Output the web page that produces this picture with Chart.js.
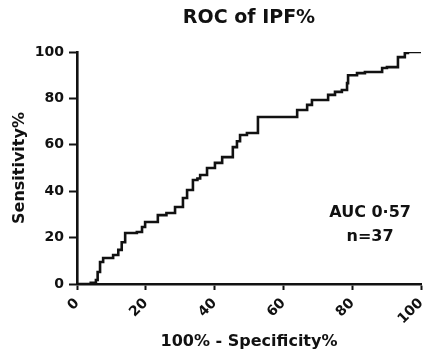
<!DOCTYPE html>
<html>
<head>
<meta charset="utf-8">
<script src="https://cdn.jsdelivr.net/npm/chart.js@4.4.1/dist/chart.umd.min.js"></script>
<style>
  html, body { margin: 0; padding: 0; background: #fff; }
  #wrap { width: 424px; height: 353px; }
</style>
</head>
<body>
<div id="wrap"><canvas id="graficoRoc"></canvas></div>
<script>
// ROC curve: 100% - specificity (x) vs sensitivity (y)
const especificidade = [0, 4, 5.5, 6, 6.7, 7.6, 9.5, 10.5, 12, 13, 14, 15.5, 17.4, 18.9, 19.8, 21.8, 23.5, 26, 28.5,
  30.8, 32, 33.7, 35, 35.8, 37.8, 40.1, 42.2, 43.9, 45.3, 46.5, 47.4, 49.4, 52.3, 52.6, 62.5, 64, 66.9, 68.3, 70.6,
  73, 75, 77, 78.5, 78.8, 81.4, 83.7, 87.2, 88.7, 90.1, 93, 93.3, 95.3, 96.2, 100];
const sensibilidade = [0, 0.5, 1.7, 5.2, 9.5, 11.2, 11.2, 12.5, 14.7, 18, 22, 22, 22.4, 24.6, 26.7, 26.7, 29.7, 30.6, 33.2,
  37.1, 40.5, 44.8, 45.5, 47, 50, 52.2, 54.7, 54.7, 59, 61.5, 64.2, 65.1, 65.1, 72, 72, 75, 77.2, 79.3, 79.3,
  81.5, 82.8, 83.6, 86.6, 90, 90.9, 91.4, 91.4, 93.1, 93.5, 93.5, 97.8, 99.6, 100, 100];
const ticksEixo = [0, 20, 40, 60, 80, 100];

const titulo = 'ROC of IPF%';
const notas = ['AUC 0·57', 'n=37'];

const fonte = 'DejaVu Sans';
const preto = '#111';

// title centred over the plot area + the AUC note
const textosExtras = {
    id: 'textosExtras',
    afterDraw(chart) {
        const ctx = chart.ctx;
        const area = chart.chartArea;
        const x = chart.scales.x;
        const y = chart.scales.y;
        ctx.save();
        ctx.fillStyle = preto;
        ctx.textAlign = 'center';
        ctx.textBaseline = 'middle';
        ctx.font = 'bold 19px "' + fonte + '"';
        ctx.fillText(titulo, (area.left + area.right) / 2, 18);
        ctx.font = 'bold 16px "' + fonte + '"';
        ctx.fillText(notas[0], x.getPixelForValue(85.2), y.getPixelForValue(30.6));
        ctx.fillText(notas[1], x.getPixelForValue(85.2), y.getPixelForValue(20.3));
        ctx.restore();
    }
};

const ctxRoc = document.getElementById('graficoRoc').getContext('2d');
const graficoRoc = new Chart(ctxRoc, {
    type: 'line',
    data: {
        datasets: [{
            label: titulo,
            data: especificidade.map((v, i) => ({ x: v, y: sensibilidade[i] })),
            borderColor: preto,
            borderWidth: 2.6,
            pointRadius: 0,
            stepped: 'before',
            fill: false
        }]
    },
    options: {
        responsive: true,
        maintainAspectRatio: false,
        animation: false,
        layout: {
            padding: { top: 52, right: 3, left: 0, bottom: 0 }
        },
        plugins: {
            legend: { display: false },
            title: { display: false },
            tooltip: { enabled: false }
        },
        scales: {
            x: {
                type: 'linear',
                min: 0,
                max: 100,
                afterBuildTicks: (s) => { s.ticks = ticksEixo.map(v => ({ value: v })); },
                afterFit: (s) => { s.height = 69; s.paddingLeft = 0; s.paddingRight = 0; },
                grid: { drawOnChartArea: false, drawTicks: true, tickLength: 6, tickColor: preto, tickWidth: 2 },
                border: { display: true, color: preto, width: 2.6 },
                ticks: {
                    color: preto,
                    font: { family: fonte, size: 14, weight: 'bold' },
                    minRotation: 45,
                    maxRotation: 45,
                    autoSkip: false,
                    padding: 5
                },
                title: {
                    display: true,
                    text: '100% - Specificity%',
                    color: preto,
                    font: { family: fonte, size: 16, weight: 'bold' },
                    padding: { top: 0, bottom: 2 }
                }
            },
            y: {
                min: 0,
                max: 100,
                afterBuildTicks: (s) => { s.ticks = ticksEixo.map(v => ({ value: v })); },
                afterFit: (s) => { s.width = 77; },
                grid: { drawOnChartArea: false, drawTicks: true, tickLength: 8, tickColor: preto, tickWidth: 2 },
                border: { display: true, color: preto, width: 2.6 },
                ticks: {
                    color: preto,
                    font: { family: fonte, size: 14, weight: 'bold' },
                    padding: 5
                },
                title: {
                    display: true,
                    text: 'Sensitivity%',
                    color: preto,
                    font: { family: fonte, size: 16, weight: 'bold' },
                    padding: { top: 10, bottom: 0 }
                }
            }
        }
    },
    plugins: [textosExtras]
});
</script>
</body>
</html>
